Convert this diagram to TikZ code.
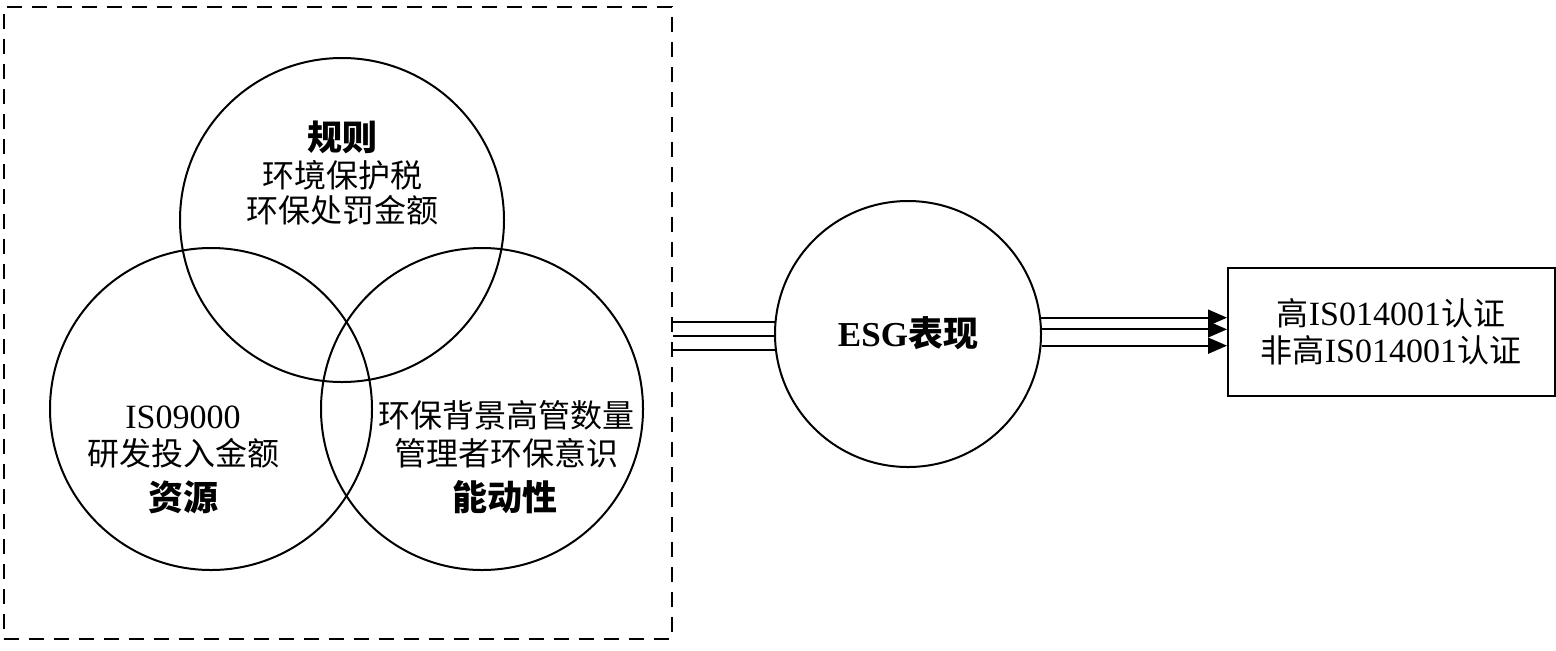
\documentclass[tikz,border=0pt]{standalone}
\usepackage{fontspec}
\setmainfont{Liberation Serif}
\newfontfamily\cjk{Noto Sans CJK SC}
\usetikzlibrary{arrows.meta}
\begin{document}
\begin{tikzpicture}[x=0.5pt,y=-0.5pt,
  ring/.style={draw,circle,line width=1pt,inner sep=0},
  txt/.style={font=\fontsize{16pt}{18pt}\selectfont\cjk,inner sep=0,anchor=center},
  ttl/.style={font=\fontsize{17.5pt}{20pt}\selectfont\cjk\bfseries,inner sep=0,anchor=center},
  link/.style={line width=1pt},
  arr/.style={line width=1pt,-{Triangle[length=9.5pt,width=8pt]}}]
\useasboundingbox (0,0) rectangle (1556,650);
\node[draw,dashed,dash pattern=on 7.5pt off 5pt,line width=1pt,minimum width=334pt,minimum height=316pt,inner sep=0] (frame) at (338,323) {};
\node[ring,minimum size=162pt] (rule) at (342,220) {};
\node[ring,minimum size=161pt] (res) at (211,409) {};
\node[ring,minimum size=161pt] (act) at (482,409) {};
\node[ring,minimum size=133pt] (esg) at (908,334) {};
\node[draw,line width=1pt,minimum width=163.5pt,minimum height=64pt,inner sep=0] (out) at (1391.5,332) {};
% texts
\node[ttl] (t1) at (342,137) {规则};
\node[txt] (t2) at (342,175) {环境保护税};
\node[txt] (t3) at (342,210) {环保处罚金额};
\node[txt] (l1) at (183,417) {\fontsize{17pt}{18pt}\selectfont\rmfamily IS09000};
\node[txt] (l2) at (183,453) {研发投入金额};
\node[ttl] (l3) at (183,497) {资源};
\node[txt] (r1) at (506,415) {环保背景高管数量};
\node[txt] (r2) at (506,453) {管理者环保意识};
\node[ttl] (r3) at (505,497) {能动性};
\node[ttl] (e1) at (908,333) {{\rmfamily ESG}表现};
\node[txt] (o1) at (1391,313) {高{\fontsize{17pt}{18pt}\selectfont\rmfamily IS014001}认证};
\node[txt] (o2) at (1391,350) {非高{\fontsize{17pt}{18pt}\selectfont\rmfamily IS014001}认证};
% connectors
\draw[link] (frame.east |- esg.175.3) -- (esg.175.3);
\draw[link] (frame.east |- esg.181.7) -- (esg.181.7);
\draw[link] (frame.east |- esg.187.3) -- (esg.187.3);
\draw[arr] (esg.7.8) -- (out.west |- esg.7.8);
\draw[arr] (esg.2.2) -- (out.west |- esg.2.2);
\draw[arr] (esg.355.7) -- (out.west |- esg.355.7);
\end{tikzpicture}
\end{document}
